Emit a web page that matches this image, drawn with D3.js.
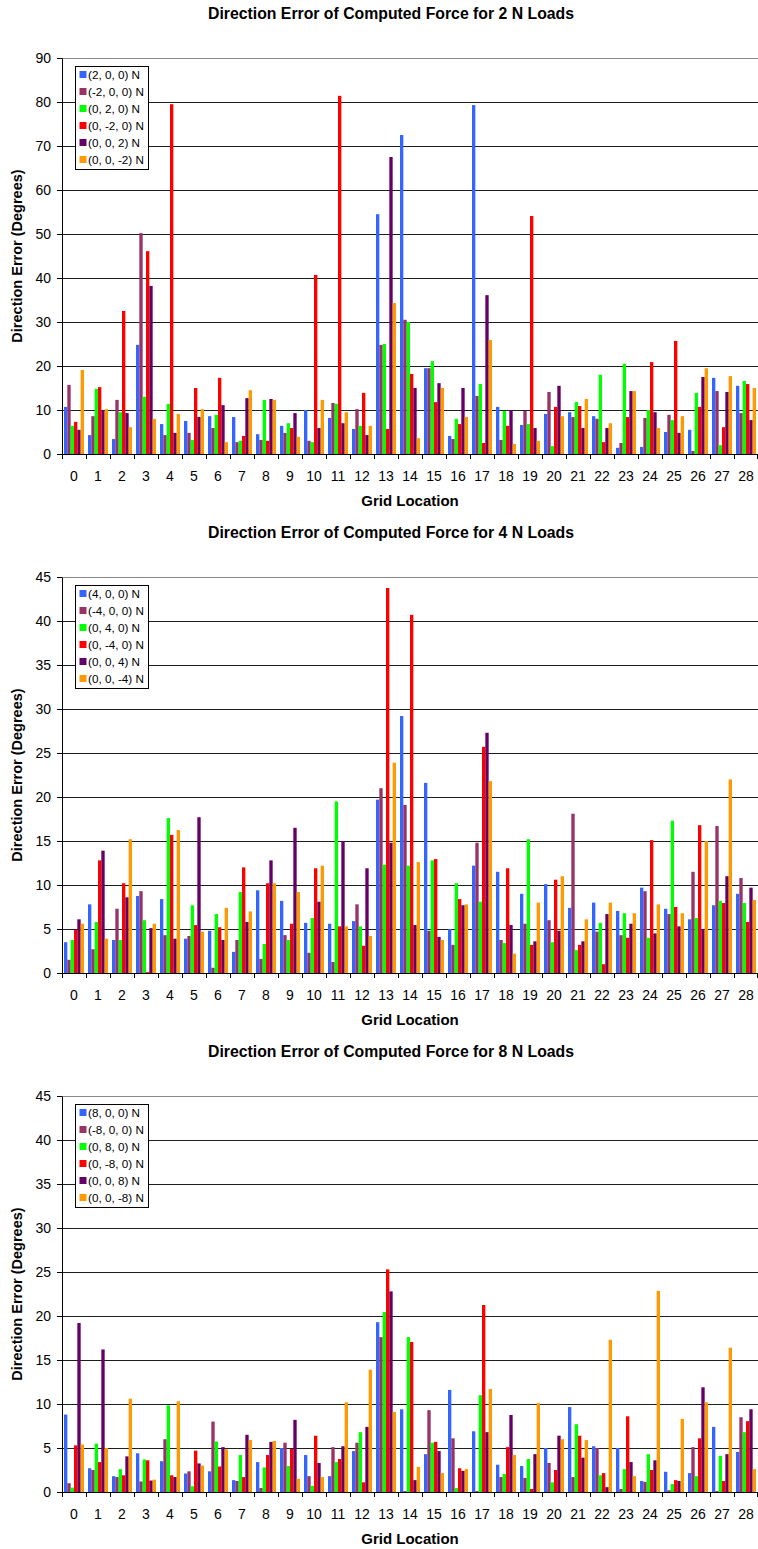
<!DOCTYPE html>
<html>
<head>
<meta charset="utf-8">
<script src="https://cdn.jsdelivr.net/npm/d3@7"></script>
<style>
  body { margin: 0; background: #fff; }
  svg { display: block; font-family: "Liberation Sans", Arial, sans-serif; }
</style>
</head>
<body>
<svg id="chart" width="758" height="1549"></svg>
<script>
// Grid locations along the x axis
const gridLocations = [0,1,2,3,4,5,6,7,8,9,10,11,12,13,14,15,16,17,18,19,20,21,22,23,24,25,26,27,28];

// Series colours: +x, -x, +y, -y, +z, -z load directions
const seriesColors = ["#3366FF", "#993366", "#00FF00", "#FF0000", "#660066", "#FF9900"];

// ---- 2 N loads: direction error (degrees) ----
const legend2N = ["(2, 0, 0) N", "(-2, 0, 0) N", "(0, 2, 0) N", "(0, -2, 0) N", "(0, 0, 2) N", "(0, 0, -2) N"];
const err2N_xPos = [10.7, 4.3, 3.4, 24.8, 6.8, 7.5, 8.6, 8.4, 4.5, 6.4, 10.0, 8.2, 5.7, 54.5, 72.5, 19.5, 4.1, 79.3, 10.7, 6.6, 9.1, 9.5, 8.6, 1.4, 1.6, 5.0, 5.5, 17.3, 15.5];
const err2N_xNeg = [15.7, 8.6, 12.3, 50.2, 4.3, 4.8, 5.9, 2.7, 3.2, 4.8, 3.0, 11.6, 10.2, 24.8, 30.5, 19.5, 3.4, 13.2, 3.2, 9.8, 14.1, 8.4, 8.0, 2.5, 8.2, 8.9, 0.7, 14.3, 9.3];
const err2N_yPos = [6.4, 14.8, 9.5, 13.0, 11.4, 3.2, 8.9, 3.0, 12.3, 7.0, 2.7, 11.4, 6.4, 25.0, 30.0, 21.1, 8.0, 15.9, 9.8, 6.8, 1.8, 11.8, 18.0, 20.5, 10.0, 7.7, 13.9, 2.0, 16.6];
const err2N_yNeg = [7.3, 15.2, 32.5, 46.1, 79.5, 15.0, 17.3, 4.1, 3.0, 5.9, 40.7, 81.4, 13.9, 5.7, 18.2, 11.8, 6.8, 2.5, 6.4, 54.1, 10.7, 10.9, 2.7, 8.4, 20.9, 25.7, 10.7, 6.1, 15.9];
const err2N_zPos = [5.5, 10.0, 9.3, 38.2, 4.8, 8.4, 11.1, 12.7, 12.5, 9.3, 5.9, 7.0, 4.3, 67.5, 15.0, 16.1, 15.0, 36.1, 10.0, 5.9, 15.5, 5.9, 5.9, 14.3, 9.5, 4.8, 17.5, 14.1, 7.7];
const err2N_zNeg = [19.1, 10.2, 6.1, 8.0, 9.1, 10.2, 2.7, 14.5, 12.3, 3.9, 12.3, 9.5, 6.4, 34.3, 3.6, 15.0, 8.4, 25.9, 2.3, 3.0, 8.6, 12.5, 7.0, 14.3, 5.9, 8.6, 19.5, 17.7, 15.0];

// ---- 4 N loads ----
const legend4N = ["(4, 0, 0) N", "(-4, 0, 0) N", "(0, 4, 0) N", "(0, -4, 0) N", "(0, 0, 4) N", "(0, 0, -4) N"];
const err4N_xPos = [3.5, 7.8, 3.75, 8.75, 8.4, 3.9, 4.8, 2.4, 9.4, 8.2, 5.7, 5.6, 5.9, 19.7, 29.2, 21.6, 5.0, 12.2, 11.5, 9.0, 10.1, 7.4, 8.0, 7.05, 9.7, 7.3, 6.1, 7.7, 9.0];
const err4N_xNeg = [1.5, 2.7, 7.3, 9.3, 4.3, 4.2, 0.6, 3.75, 1.6, 4.3, 2.3, 1.25, 7.8, 21.0, 19.1, 4.8, 3.2, 14.8, 3.75, 5.6, 6.0, 18.1, 4.7, 4.3, 9.3, 6.7, 11.5, 16.7, 10.8];
const err4N_yPos = [3.75, 5.8, 3.75, 6.0, 17.6, 7.7, 6.7, 9.2, 3.3, 3.75, 6.25, 19.5, 5.3, 12.3, 12.2, 12.8, 10.2, 8.1, 3.4, 15.2, 3.5, 2.6, 5.7, 6.8, 4.0, 17.3, 6.25, 8.2, 7.95];
const err4N_yNeg = [4.9, 12.8, 10.2, 0.1, 15.7, 5.45, 5.2, 12.0, 10.2, 5.6, 11.9, 5.3, 3.1, 43.75, 40.7, 12.95, 8.4, 25.7, 11.9, 3.2, 10.6, 3.2, 1.0, 4.0, 15.1, 7.5, 16.8, 7.95, 5.8];
const err4N_zPos = [6.1, 13.9, 8.6, 5.1, 3.9, 17.7, 3.75, 5.8, 12.8, 16.5, 8.1, 15.0, 11.9, 14.8, 5.45, 4.1, 7.7, 27.3, 5.45, 3.6, 4.8, 3.6, 6.7, 5.6, 4.5, 5.3, 5.0, 11.0, 9.7];
const err4N_zNeg = [5.6, 3.9, 15.2, 5.6, 16.25, 4.7, 7.4, 7.0, 10.2, 9.2, 12.2, 5.3, 4.2, 23.9, 12.6, 3.75, 7.8, 21.8, 2.2, 8.0, 11.0, 6.1, 8.0, 6.8, 7.8, 6.8, 15.0, 22.0, 8.3];

// ---- 8 N loads ----
const legend8N = ["(8, 0, 0) N", "(-8, 0, 0) N", "(0, 8, 0) N", "(0, -8, 0) N", "(0, 0, 8) N", "(0, 0, -8) N"];
const err8N_xPos = [8.8, 2.7, 1.8, 4.4, 3.5, 2.1, 2.35, 1.35, 3.4, 5.0, 4.2, 1.8, 4.65, 19.3, 9.4, 4.3, 11.6, 6.9, 3.1, 2.95, 5.0, 9.65, 5.2, 5.0, 1.25, 2.3, 2.15, 7.4, 4.55];
const err8N_xNeg = [1.0, 2.5, 1.7, 1.2, 6.0, 2.35, 8.0, 1.25, 0.45, 5.6, 1.8, 5.1, 5.6, 17.6, 0.1, 9.3, 6.1, 0.1, 1.7, 1.6, 3.3, 1.7, 5.0, 0.35, 1.15, 0.2, 5.1, 0.1, 8.5];
const err8N_yPos = [0.5, 5.5, 2.6, 3.7, 9.85, 0.65, 5.75, 4.2, 2.8, 2.95, 0.7, 3.4, 6.8, 20.45, 17.6, 5.6, 0.45, 11.0, 2.05, 3.75, 1.1, 7.7, 1.9, 2.6, 4.3, 0.9, 1.8, 4.1, 6.8];
const err8N_yNeg = [5.3, 3.4, 1.9, 3.6, 1.9, 4.7, 2.9, 1.7, 4.2, 4.9, 6.4, 3.75, 1.1, 25.3, 17.05, 5.7, 2.7, 21.25, 5.1, 0.35, 2.5, 6.4, 2.15, 8.6, 2.5, 1.35, 6.1, 1.25, 8.05];
const err8N_zPos = [19.2, 16.2, 4.05, 1.3, 1.7, 3.25, 5.1, 6.5, 5.7, 8.2, 3.3, 5.2, 7.4, 22.8, 1.35, 4.65, 2.4, 6.8, 8.75, 4.3, 6.4, 3.9, 0.55, 3.4, 3.6, 1.25, 11.9, 4.3, 9.4];
const err8N_zNeg = [5.4, 5.0, 10.6, 1.4, 10.3, 3.0, 4.85, 5.9, 5.8, 1.5, 1.7, 10.2, 13.9, 9.1, 2.85, 2.15, 2.6, 11.7, 4.2, 10.1, 6.0, 5.9, 17.3, 1.8, 22.85, 8.3, 10.2, 16.4, 2.6];

const svg = d3.select("#chart");
svg.append("rect").attr("width", 758).attr("height", 1549).attr("fill", "#fff");

const FONT = '"Liberation Sans", Arial, sans-serif';

function drawPanel(top, title, labels, series, yMax, yStep) {
  const g = svg.append("g").attr("transform", `translate(0,${top})`);
  const left = 62, right = 758, plotTop = 58, plotBottom = 454;

  const x0 = d3.scaleBand().domain(gridLocations).range([left, right]).padding(0);
  const x1 = d3.scaleBand().domain(d3.range(series.length)).range([2, x0.bandwidth() - 2]);
  const y = d3.scaleLinear().domain([0, yMax]).range([plotBottom, plotTop]);
  const ticks = d3.range(0, yMax + yStep / 2, yStep);

  // horizontal gridlines
  g.append("g").selectAll("line")
    .data(ticks.filter(t => t > 0))
    .join("line")
    .attr("x1", left).attr("x2", right)
    .attr("y1", d => Math.round(y(d)) + 0.5).attr("y2", d => Math.round(y(d)) + 0.5)
    .attr("stroke", d => d === yMax ? "#8a8a8a" : "#1e1e1e")
    .attr("stroke-width", 1.2);

  // grouped bars
  const groups = g.append("g").selectAll("g")
    .data(series)
    .join("g")
    .attr("fill", (d, i) => seriesColors[i]);
  groups.each(function (vals, si) {
    d3.select(this).selectAll("rect")
      .data(vals)
      .join("rect")
      .attr("x", (v, gi) => x0(gridLocations[gi]) + x1(si))
      .attr("width", x1.bandwidth())
      .attr("y", v => y(v))
      .attr("height", v => plotBottom - y(v));
  });

  // y axis
  const yAxis = g.append("g")
    .attr("transform", `translate(${left},0)`)
    .call(d3.axisLeft(y).tickValues(ticks).tickSize(5).tickSizeOuter(0).tickPadding(6));
  yAxis.selectAll("text").attr("font-size", 14).attr("font-family", FONT).attr("fill", "#000");
  yAxis.selectAll("line, path").attr("stroke", "#000");

  // x axis with category labels
  const xAxis = g.append("g")
    .attr("transform", `translate(0,${plotBottom})`)
    .call(d3.axisBottom(x0).tickSize(0).tickSizeOuter(0).tickPadding(17));
  xAxis.selectAll("text").attr("font-size", 14).attr("font-family", FONT).attr("fill", "#000");
  xAxis.select("path").attr("stroke", "#000");

  // tick marks between categories
  const bounds = gridLocations.map(d => x0(d)).concat([right - 1]);
  g.append("g").selectAll("line")
    .data(bounds)
    .join("line")
    .attr("x1", d => Math.round(d) + 0.5).attr("x2", d => Math.round(d) + 0.5)
    .attr("y1", plotBottom).attr("y2", plotBottom + 5)
    .attr("stroke", "#000");

  // chart title
  g.append("text")
    .attr("x", 391).attr("y", 19)
    .attr("text-anchor", "middle")
    .attr("font-family", FONT).attr("font-weight", "bold").attr("font-size", 15.8)
    .text(title);

  // axis titles
  g.append("text")
    .attr("x", (left + right) / 2).attr("y", 506)
    .attr("text-anchor", "middle")
    .attr("font-family", FONT).attr("font-weight", "bold").attr("font-size", 15)
    .text("Grid Location");
  g.append("text")
    .attr("transform", `translate(22,${(plotTop + plotBottom) / 2}) rotate(-90)`)
    .attr("text-anchor", "middle")
    .attr("font-family", FONT).attr("font-weight", "bold").attr("font-size", 14.5)
    .text("Direction Error (Degrees)");

  // legend
  const lg = g.append("g").attr("transform", "translate(75.5,66.5)");
  lg.append("rect").attr("width", 73).attr("height", 103)
    .attr("fill", "#fff").attr("stroke", "#000").attr("stroke-width", 1);
  const rows = lg.selectAll("g.row")
    .data(labels)
    .join("g")
    .attr("class", "row")
    .attr("transform", (d, i) => `translate(0,${8.5 + i * 17})`);
  rows.append("rect")
    .attr("x", 4).attr("y", -4).attr("width", 7).attr("height", 7)
    .attr("fill", (d, i) => seriesColors[i]);
  rows.append("text")
    .attr("x", 12.5).attr("y", 4)
    .attr("font-family", FONT).attr("font-size", 11.7).attr("fill", "#000")
    .text(d => d);
}

drawPanel(0, "Direction Error of Computed Force for 2 N Loads", legend2N,
  [err2N_xPos, err2N_xNeg, err2N_yPos, err2N_yNeg, err2N_zPos, err2N_zNeg], 90, 10);
drawPanel(519, "Direction Error of Computed Force for 4 N Loads", legend4N,
  [err4N_xPos, err4N_xNeg, err4N_yPos, err4N_yNeg, err4N_zPos, err4N_zNeg], 45, 5);
drawPanel(1038, "Direction Error of Computed Force for 8 N Loads", legend8N,
  [err8N_xPos, err8N_xNeg, err8N_yPos, err8N_yNeg, err8N_zPos, err8N_zNeg], 45, 5);
</script>
</body>
</html>
